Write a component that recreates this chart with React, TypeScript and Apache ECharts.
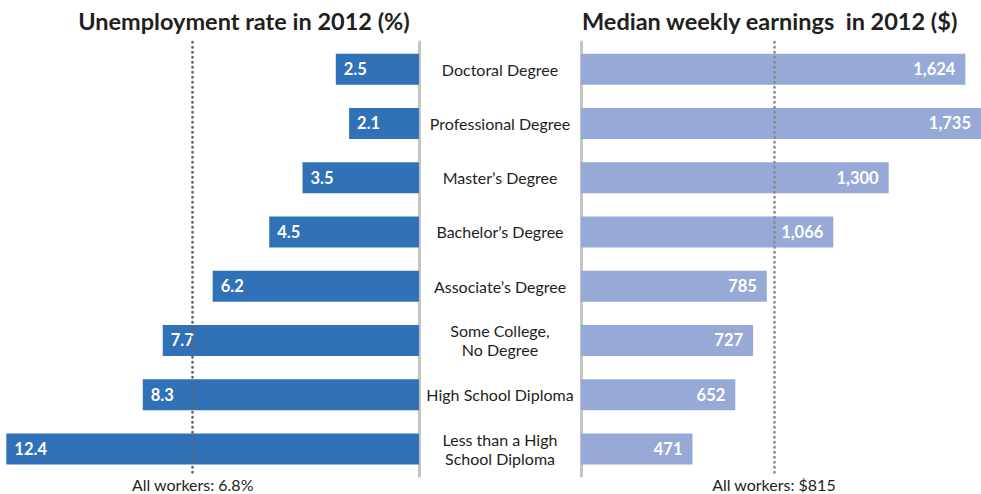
import React, { useEffect, useRef } from "react";
import * as echarts from "echarts";

const categories = [
  "Doctoral Degree",
  "Professional Degree",
  "Master\u2019s Degree",
  "Bachelor\u2019s Degree",
  "Associate\u2019s Degree",
  "Some College,\nNo Degree",
  "High School Diploma",
  "Less than a High\nSchool Diploma",
];
const unemploymentRate = [2.5, 2.1, 3.5, 4.5, 6.2, 7.7, 8.3, 12.4];
const weeklyEarnings = [1624, 1735, 1300, 1066, 785, 727, 652, 471];
const allWorkersRate = 6.8;
const allWorkersEarnings = 815;
const leftTitle = "Unemployment rate in 2012 (%)";
const rightTitle = "Median weekly earnings  in 2012 ($)";

const FONT = "Lato, 'Open Sans', sans-serif";

export default function App() {
  const ref = useRef<HTMLDivElement>(null);
  useEffect(() => {
    document.body.style.margin = "0";
    const chart = echarts.init(ref.current!, undefined, { renderer: "svg" });
    const dotted = (color: string) => ({
      type: [0.5, 4.5] as any,
      color,
      width: 2.6,
      cap: "round" as const,
    });
    chart.setOption({
      animation: false,
      textStyle: { fontFamily: FONT },
      graphic: [
        {
          type: "text",
          x: 244,
          y: 21,
          style: {
            text: leftTitle,
            textAlign: "center",
            textVerticalAlign: "middle",
            fontFamily: FONT,
            fontSize: 23.5,
            fontWeight: "bold",
            fill: "#231f20",
          },
        },
        {
          type: "text",
          x: 582,
          y: 21,
          style: {
            text: rightTitle,
            textAlign: "left",
            textVerticalAlign: "middle",
            fontFamily: FONT,
            fontSize: 23.5,
            fontWeight: "bold",
            fill: "#231f20",
          },
        },
      ],
      grid: [
        { left: 3, right: 562, top: 42, height: 434 },
        { left: 581, right: 0, top: 42, height: 434 },
      ],
      xAxis: [
        {
          gridIndex: 0,
          type: "value",
          inverse: true,
          min: 0,
          max: 12.5,
          show: false,
        },
        {
          gridIndex: 1,
          type: "value",
          min: 0,
          max: 1690,
          show: false,
        },
      ],
      yAxis: [
        {
          gridIndex: 0,
          type: "category",
          data: categories,
          inverse: true,
          position: "right",
          axisLine: { show: true, lineStyle: { color: "#c4c4c4", width: 3 } },
          axisTick: { show: false },
          splitLine: { show: false },
          axisLabel: {
            show: true,
            align: "center",
            margin: 81,
            fontFamily: FONT,
            fontSize: 16,
            lineHeight: 19,
            color: "#231f20",
          },
          z: 1,
        },
        {
          gridIndex: 1,
          type: "category",
          data: categories,
          inverse: true,
          position: "left",
          axisLine: { show: true, lineStyle: { color: "#c4c4c4", width: 3 } },
          axisTick: { show: false },
          splitLine: { show: false },
          axisLabel: { show: false },
        },
      ],
      series: [
        {
          type: "bar",
          xAxisIndex: 0,
          yAxisIndex: 0,
          data: unemploymentRate,
          barWidth: 31,
          itemStyle: { color: "#3071b8" },
          z: 3,
          label: {
            show: true,
            position: "insideLeft",
            distance: 8,
            color: "#ffffff",
            fontFamily: FONT,
            fontWeight: "bold",
            fontSize: 16.5,
            formatter: (p: any) => p.value.toFixed(1),
          },
          markLine: {
            silent: true,
            symbol: "none",
            z: 5,
            lineStyle: dotted("#5f656d"),
            label: {
              position: "end",
              distance: 0,
              color: "#231f20",
              fontFamily: FONT,
              fontSize: 16,
              lineHeight: 16,
              formatter: (p: any) => `All workers: ${p.value}%`,
            },
            data: [{ xAxis: allWorkersRate }],
          },
        },
        {
          type: "bar",
          xAxisIndex: 1,
          yAxisIndex: 1,
          data: weeklyEarnings,
          barWidth: 31,
          itemStyle: { color: "#97aad7" },
          z: 3,
          label: {
            show: true,
            position: "insideRight",
            distance: 10,
            color: "#ffffff",
            fontFamily: FONT,
            fontWeight: "bold",
            fontSize: 16.5,
            formatter: (p: any) => Number(p.value).toLocaleString("en-US"),
          },
          markLine: {
            silent: true,
            symbol: "none",
            z: 5,
            lineStyle: dotted("#8a8a8a"),
            label: {
              position: "end",
              distance: 0,
              color: "#231f20",
              fontFamily: FONT,
              fontSize: 16,
              lineHeight: 16,
              formatter: (p: any) => `All workers: $${p.value}`,
            },
            data: [{ xAxis: allWorkersEarnings }],
          },
        },
      ],
    });
    return () => chart.dispose();
  }, []);
  return <div ref={ref} style={{ width: 981, height: 494 }} />;
}
